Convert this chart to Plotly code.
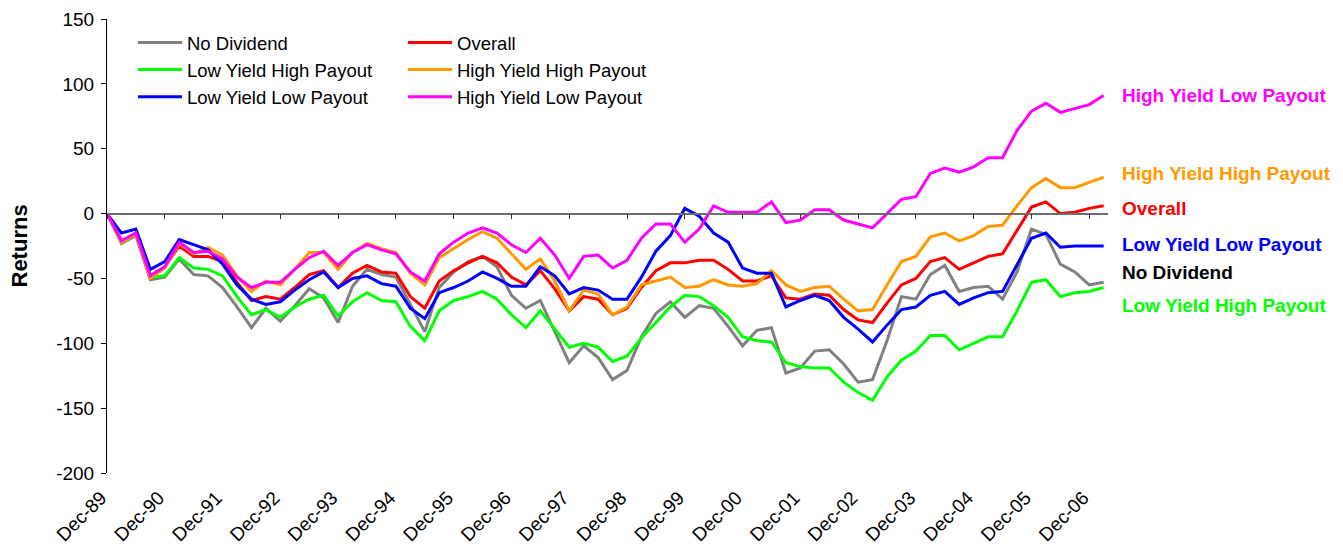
import plotly.graph_objects as go

# ---------------- data ----------------
quarters = ["Dec-89"] + [f"{m}-{y % 100:02d}" for y in range(1990, 2008)
                         for m in ("Mar", "Jun", "Sep", "Dec")][:69]
tick_labels = ["Dec-89", "Dec-90", "Dec-91", "Dec-92", "Dec-93", "Dec-94",
               "Dec-95", "Dec-96", "Dec-97", "Dec-98", "Dec-99", "Dec-00",
               "Dec-01", "Dec-02", "Dec-03", "Dec-04", "Dec-05", "Dec-06"]
y_ticks = [-200, -150, -100, -50, 0, 50, 100, 150]

no_dividend = [0, -23, -17, -51, -49, -35, -47, -48, -57, -72, -88, -73, -83, -71, -58, -65,
               -84, -56, -43, -47, -49, -70, -91, -57, -45, -37, -33, -41, -63, -73, -67, -91,
               -115, -102, -111, -128, -121, -95, -77, -68, -80, -71, -73, -87, -102, -90, -88, -123,
               -119, -106, -105, -116, -130, -128, -98, -64, -66, -47, -40, -60, -57, -56, -66, -45,
               -12, -16, -39, -45, -55, -53]
low_yield_high_payout = [0, -22, -16, -49, -48, -34, -42, -43, -48, -64, -78, -74, -80, -72, -66, -63,
                         -79, -68, -61, -67, -68, -87, -98, -75, -67, -64, -60, -66, -78, -88, -75, -89,
                         -103, -100, -103, -114, -110, -96, -84, -72, -63, -64, -71, -80, -95, -98, -99, -115,
                         -118, -119, -119, -130, -138, -144, -126, -113, -106, -94, -94, -105, -100, -95, -95, -75,
                         -53, -51, -64, -61, -60, -57]
low_yield_low_payout = [0, -15, -12, -43, -37, -20, -24, -28, -39, -55, -66, -70, -68, -59, -51, -45,
                        -57, -50, -48, -54, -56, -73, -81, -61, -57, -52, -45, -50, -56, -56, -41, -48,
                        -62, -57, -59, -66, -66, -49, -29, -17, 4, -2, -15, -22, -42, -46, -46, -72,
                        -67, -63, -67, -80, -89, -99, -86, -74, -72, -63, -60, -70, -65, -61, -60, -40,
                        -19, -15, -26, -25, -25, -25]
overall = [0, -21, -16, -48, -41, -25, -33, -33, -37, -53, -67, -64, -66, -57, -47, -44,
           -57, -46, -40, -45, -46, -64, -73, -52, -44, -38, -33, -38, -49, -55, -44, -58,
           -75, -64, -66, -78, -73, -57, -44, -38, -38, -36, -36, -43, -52, -52, -48, -65,
           -66, -62, -63, -74, -82, -84, -69, -55, -50, -37, -34, -43, -38, -33, -31, -13,
           5, 9, 0, 1, 4, 6]
high_yield_high_payout = [0, -22, -16, -50, -42, -23, -31, -26, -32, -48, -60, -52, -55, -43, -30, -30,
                          -43, -30, -23, -27, -30, -46, -55, -34, -27, -20, -14, -19, -31, -43, -35, -52,
                          -75, -59, -62, -78, -72, -55, -52, -49, -57, -56, -51, -55, -56, -54, -44, -55,
                          -60, -57, -56, -66, -75, -74, -55, -37, -33, -18, -15, -21, -17, -10, -9, 6,
                          20, 27, 20, 20, 24, 28]
high_yield_low_payout = [0, -21, -15, -48, -41, -22, -30, -29, -35, -49, -57, -53, -53, -43, -34, -29,
                         -40, -30, -24, -28, -31, -45, -52, -31, -22, -15, -11, -15, -24, -30, -19, -32,
                         -50, -33, -32, -42, -36, -19, -8, -8, -22, -12, 6, 1, 1, 1, 9, -7,
                         -5, 3, 3, -5, -8, -11, 0, 11, 13, 31, 35, 32, 36, 43, 43, 64,
                         79, 85, 78, 81, 84, 91]

# (name, values, colour, legend, end-label colour, end-label offset)
series = [
    ("No Dividend", no_dividend, "#808080", "legend", "#000000", 7.5),
    ("Overall", overall, "#FF0000", "legend2", "#FF0000", -2),
    ("Low Yield High Payout", low_yield_high_payout, "#00FF00", "legend", "#00FF00", -14),
    ("High Yield High Payout", high_yield_high_payout, "#FF9900", "legend2", "#FF9900", 3),
    ("Low Yield Low Payout", low_yield_low_payout, "#0000FF", "legend", "#0000FF", 1),
    ("High Yield Low Payout", high_yield_low_payout, "#FF00FF", "legend2", "#FF00FF", 0),
]

FONT = "Liberation Sans, Arial, sans-serif"
# page body has an 8px default margin, so the figure is drawn 8px in from the corner
W, H = 1335, 538

fig = go.Figure()
for name, vals, col, leg, _, _ in series:
    fig.add_trace(go.Scatter(x=quarters, y=vals, mode="lines", name=name,
                             line=dict(color=col, width=3), legend=leg))

# invisible helper trace so that the zero-crossing axis (x2) is drawn
fig.add_trace(go.Scatter(x=quarters, y=[None] * len(quarters), xaxis="x2",
                         showlegend=False, hoverinfo="skip", mode="lines"))

annotations = []
for name, vals, col, leg, lab_col, off in series:
    annotations.append(dict(x=1.012, xref="paper", y=vals[-1] + off, yref="y",
                            text=f"<b>{name}</b>", showarrow=False, xanchor="left",
                            yanchor="middle", font=dict(family=FONT, size=19, color=lab_col)))
annotations.append(dict(x=-0.0884, xref="paper", y=0.5, yref="paper", text="<b>Returns</b>",
                        showarrow=False, textangle=-90, xanchor="center", yanchor="middle",
                        font=dict(family=FONT, size=22, color="black")))

rng = [0, 69.3]
legend_common = dict(yref="container", xref="container", xanchor="left", yanchor="top",
                     bgcolor="rgba(0,0,0,0)", font=dict(family=FONT, size=18.5, color="black"),
                     itemwidth=44)
fig.update_layout(
    width=W, height=H,
    margin=dict(l=99, r=235, t=11, b=73, autoexpand=False),
    paper_bgcolor="white", plot_bgcolor="white",
    font=dict(family=FONT, size=18, color="black"),
    xaxis=dict(type="category", categoryorder="array", categoryarray=quarters, range=rng,
               tickmode="array", tickvals=tick_labels, ticktext=tick_labels, tickangle=-45,
               showline=False, ticks="", showgrid=False, zeroline=False,
               ticklabelstandoff=9, ticklabelshift=-6,
               tickfont=dict(family=FONT, size=19, color="black")),
    xaxis2=dict(type="category", categoryorder="array", categoryarray=quarters, range=rng,
                overlaying="x", anchor="free", position=200 / 350, side="bottom",
                showline=True, linecolor="#6e6e6e", linewidth=1.5,
                ticks="outside", ticklen=5, tickcolor="#333333", tickwidth=1,
                tickmode="array", tickvals=tick_labels, showticklabels=False,
                showgrid=False, zeroline=False),
    yaxis=dict(range=[-200, 150], tickmode="array", tickvals=y_ticks,
               ticktext=[str(v) for v in y_ticks],
               showline=True, linecolor="black", linewidth=1, ticks="outside", ticklen=5,
               tickcolor="black", showgrid=False, zeroline=False, ticklabelstandoff=3,
               tickfont=dict(family=FONT, size=19, color="black")),
    legend=dict(x=125 / W, y=1 - 16 / H, **legend_common),
    legend2=dict(x=395 / W, y=1 - 16 / H, **legend_common),
    annotations=annotations,
    showlegend=True,
)

fig.write_html("out.html")
